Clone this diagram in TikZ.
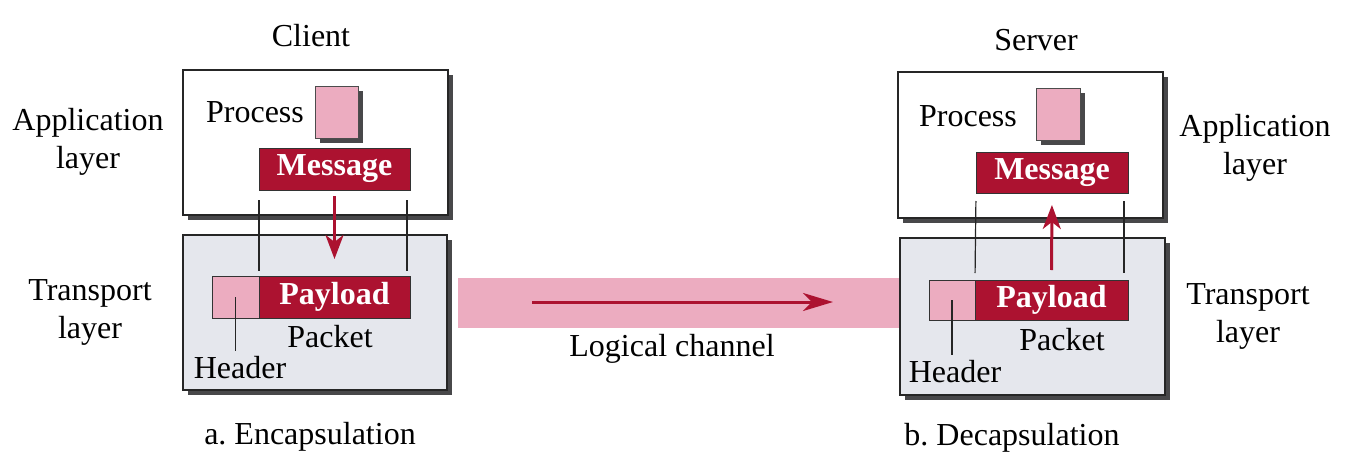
\documentclass[tikz,border=0pt]{standalone}
\usepackage{fontspec}
\setmainfont{Liberation Serif}
\usetikzlibrary{arrows.meta,shadows,positioning}
\definecolor{msgred}{RGB}{172,18,48}
\definecolor{pinkfill}{RGB}{236,172,192}
\definecolor{layergray}{RGB}{229,231,237}
\definecolor{shadowgray}{RGB}{72,72,74}
\tikzset{
  shade box/.style={drop shadow={shadow xshift=5pt,shadow yshift=-5pt,fill=shadowgray,opacity=1}},
  layerbox/.style={draw=black!85,line width=1.5pt,outer sep=0pt,inner sep=0pt,shade box},
  procbox/.style={draw=black!70,fill=pinkfill,line width=1pt,outer sep=0pt,minimum width=43pt,minimum height=52pt,shade box},
  redbox/.style={draw=black!80,fill=msgred,text=white,font=\fontsize{32}{38}\selectfont\bfseries,line width=1pt,outer sep=0pt,inner sep=0pt,minimum height=42pt},
  hdrbox/.style={draw=black!80,fill=pinkfill,line width=1pt,outer sep=0pt,minimum width=47pt,minimum height=42pt},
  lbl/.style={align=center,inner sep=0pt},
  thin line/.style={line width=1.2pt,black!85},
  redarrow/.style={line width=3pt,msgred,-{Stealth[length=24pt,width=18pt,inset=7pt]}}
}
\begin{document}
\frenchspacing
\begin{tikzpicture}[x=1pt,y=-1pt,font=\fontsize{32}{38}\selectfont]
\useasboundingbox (0,0) rectangle (1363,474);
% logical channel
\node[fill=pinkfill,minimum width=442pt,minimum height=50pt,outer sep=0pt] (chan) at (679,303) {};
\coordinate (chs) at (532,302);
\coordinate (che) at (833,302);
\draw[line width=3pt,msgred,-{Stealth[length=30pt,width=18pt,inset=9pt]}] (chs) -- (che);
\node[lbl] (chanlbl) at (672,349) {Logical channel};

% client side
\node[layerbox,fill=white,minimum width=265pt,minimum height=145pt] (cap) at (315.5,142.5) {};
\node[layerbox,fill=layergray,minimum width=264pt,minimum height=155pt] (ctr) at (315,312.5) {};
\node[procbox] (cproc) at (336.5,112) {};
\node[lbl] (cproclbl) at (255,112) {Process};
\node[redbox,minimum width=151pt] (cmsg) at (334.5,169) {Message};
\node[hdrbox] (chdr) at (235.5,297) {};
\node[redbox,minimum width=151pt,right=0pt of chdr] (cpay) {Payload};
\draw[thin line,shorten <=10pt,shorten >=5pt] (cmsg.south west) -- (cpay.north west);
\draw[thin line,shorten <=10pt,shorten >=5pt] ([xshift=-3pt]cmsg.south east) -- ([xshift=-3pt]cpay.north east);
\draw[redarrow,shorten <=6pt,shorten >=17pt] (cmsg.south) -- (cpay.north);
\node[lbl] (cpkt) at (330,337) {Packet};
\node[lbl] (chdrlbl) at (240,368) {Header};
\draw[thin line,shorten >=6pt] (chdr.center) -- (chdr.center |- chdrlbl.north);
\node[lbl] (client) at (311,36) {Client};
\node[lbl] (capp) at (88,142) {Application\\layer};
\node[lbl] (ctrans) at (90,312) {Transport\\layer};
\node[lbl] (cenc) at (310,437) {a. Encapsulation};

% server side
\node[layerbox,fill=white,minimum width=265pt,minimum height=146pt] (sap) at (1030.5,145) {};
\node[layerbox,fill=layergray,minimum width=265pt,minimum height=157pt] (str) at (1032.5,316.5) {};
\node[procbox,minimum width=44pt] (sproc) at (1058,114) {};
\node[lbl] (sproclbl) at (968,116) {Process};
\node[redbox,minimum width=152pt,minimum height=41pt] (smsg) at (1052,172.5) {Message};
\node[hdrbox,minimum width=46pt,minimum height=40pt] (shdr) at (952,300) {};
\node[redbox,minimum width=153pt,minimum height=40pt,right=0pt of shdr] (spay) {Payload};
\draw[thin line,shorten <=8pt,shorten >=7pt] (smsg.south west) -- (spay.north west);
\draw[thin line,shorten <=8pt,shorten >=7pt] ([xshift=-4pt]smsg.south east) -- ([xshift=-4pt]spay.north east);
\draw[redarrow,shorten <=10pt,shorten >=12pt] (spay.north) -- (smsg.south);
\node[lbl] (spkt) at (1062,340) {Packet};
\node[lbl] (shdrlbl) at (955,372) {Header};
\draw[thin line,shorten >=6pt] (shdr.center) -- (shdr.center |- shdrlbl.north);
\node[lbl] (server) at (1036,40) {Server};
\node[lbl] (sapp) at (1255,148) {Application\\layer};
\node[lbl] (strans) at (1248,316) {Transport\\layer};
\node[lbl] (sdec) at (1012,438) {b. Decapsulation};
\end{tikzpicture}
\end{document}
